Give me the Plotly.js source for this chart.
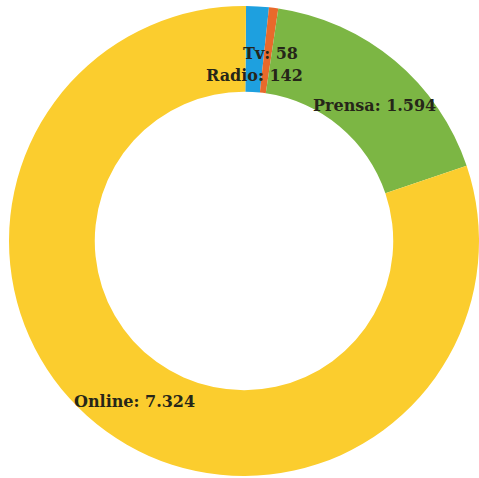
<!DOCTYPE html>
<html>
<head>
<meta charset="utf-8">
<script src="https://cdn.plot.ly/plotly-3.0.1.min.js"></script>
<style>html,body{margin:0;padding:0;background:#fff;}#chart{width:479px;height:478px;}</style>
</head>
<body>
<div id="chart"></div>
<script>
// Data (clockwise from 12 o'clock)
const categories = ["Radio", "Tv", "Prensa", "Online"];
const values = [142, 58, 1594, 7324];
const valueLabels = ["142", "58", "1.594", "7.324"];
const colors = ["#1ea0df", "#e8692b", "#7cb644", "#fbcd2e"];

// Label placement (paper coordinates) - styling only
const labelPos = {
  "Tv":     [0.557, 0.898],
  "Radio":  [0.522, 0.853],
  "Prensa": [0.777, 0.788],
  "Online": [0.268, 0.159]
};

const annotations = categories.map((c, i) => ({
  text: c + ": " + valueLabels[i],
  x: labelPos[c][0], y: labelPos[c][1],
  xref: "paper", yref: "paper",
  xanchor: "center", yanchor: "middle",
  showarrow: false,
  font: {family: "DejaVu Serif", size: 16, color: "#262619", weight: "bold"}
}));

const trace = {
  type: "pie",
  labels: categories,
  values: values,
  hole: 0.635,
  sort: false,
  direction: "clockwise",
  rotation: 0.5,
  textinfo: "none",
  hoverinfo: "label+value",
  marker: {colors: colors, line: {width: 0}},
  showlegend: false
};

Plotly.newPlot("chart", [trace], {
  width: 479, height: 478,
  margin: {l: 9, r: 0, t: 6, b: 2},
  paper_bgcolor: "#fff",
  plot_bgcolor: "#fff",
  annotations: annotations,
  showlegend: false
}, {displayModeBar: false, staticPlot: true});
</script>
</body>
</html>
